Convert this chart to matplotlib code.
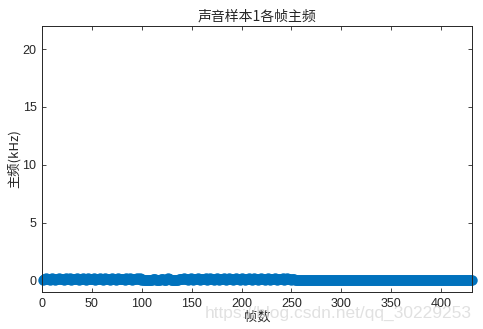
import matplotlib
matplotlib.use("Agg")
import matplotlib.pyplot as plt
import numpy as np

plt.rcParams['font.family'] = ['Liberation Sans', 'Noto Sans CJK SC', 'DejaVu Sans']

title = "声音样本1各帧主频"
xlabel = "帧数"
ylabel = "主频(kHz)"
xticks = [0, 50, 100, 150, 200, 250, 300, 350, 400]
yticks = [0, 5, 10, 15, 20]

# main frequency per frame (kHz), frames 1..260 (voiced part)
freq_part1 = [
    0.00, 0.15, 0.12, 0.17, 0.10, 0.14, 0.16, 0.05, 0.13, 0.18, 0.11, 0.15, 0.02, 0.14, 0.16, 0.12, 0.17, 0.09, 0.13, 0.15,
    0.16, 0.04, 0.12, 0.18, 0.14, 0.11, 0.15, 0.17, 0.03, 0.13, 0.16, 0.12, 0.15, 0.10, 0.17, 0.14, 0.05, 0.13, 0.16, 0.12,
    0.18, 0.11, 0.15, 0.02, 0.14, 0.17, 0.13, 0.16, 0.09, 0.12, 0.15, 0.17, 0.04, 0.14, 0.11, 0.16, 0.13, 0.18, 0.10, 0.15,
    0.03, 0.12, 0.17, 0.14, 0.16, 0.11, 0.13, 0.05, 0.15, 0.18, 0.12, 0.14, 0.16, 0.02, 0.13, 0.17, 0.11, 0.15, 0.14, 0.10,
    0.16, 0.12, 0.04, 0.17, 0.13, 0.15, 0.11, 0.18, 0.14, 0.03, 0.12, 0.16, 0.15, 0.13, 0.17, 0.10, 0.14, 0.18, 0.05, 0.12,
    0.02, 0.03, 0.01, 0.04, 0.02, 0.00, 0.03, 0.01, 0.02, 0.04, 0.12, 0.15, 0.13, 0.03, 0.02, 0.01, 0.04, 0.02, 0.14, 0.16,
    0.13, 0.03, 0.01, 0.02, 0.15, 0.17, 0.12, 0.14, 0.02, 0.03, 0.01, 0.02, 0.04, 0.03, 0.01, 0.02, 0.13, 0.16, 0.14, 0.12,
    0.15, 0.17, 0.11, 0.13, 0.16, 0.05, 0.14, 0.12, 0.18, 0.15, 0.03, 0.13, 0.16, 0.11, 0.14, 0.17, 0.12, 0.04, 0.15, 0.13,
    0.16, 0.10, 0.14, 0.18, 0.02, 0.12, 0.15, 0.17, 0.13, 0.11, 0.16, 0.05, 0.14, 0.12, 0.17, 0.15, 0.03, 0.13, 0.16, 0.11,
    0.14, 0.18, 0.12, 0.04, 0.15, 0.13, 0.17, 0.10, 0.16, 0.14, 0.02, 0.12, 0.15, 0.18, 0.13, 0.11, 0.16, 0.05, 0.14, 0.17,
    0.12, 0.15, 0.03, 0.13, 0.16, 0.11, 0.18, 0.14, 0.12, 0.04, 0.15, 0.17, 0.13, 0.10, 0.16, 0.14, 0.02, 0.12, 0.15, 0.17,
    0.13, 0.11, 0.16, 0.05, 0.14, 0.12, 0.18, 0.15, 0.03, 0.13, 0.16, 0.11, 0.14, 0.17, 0.12, 0.04, 0.15, 0.13, 0.16, 0.10,
    0.14, 0.18, 0.02, 0.12, 0.15, 0.17, 0.13, 0.11, 0.16, 0.05, 0.14, 0.12, 0.10, 0.08, 0.06, 0.04, 0.03, 0.02, 0.01, 0.00,
]
# frames 261..431 (silent part)
freq_part2 = [
    0.00, 0.00, 0.00, 0.00, 0.00, 0.00, 0.00, 0.00, 0.00, 0.00, 0.00, 0.00, 0.00, 0.00, 0.00, 0.00, 0.00, 0.00, 0.00, 0.00,
    0.00, 0.00, 0.00, 0.00, 0.00, 0.00, 0.00, 0.00, 0.00, 0.00, 0.00, 0.00, 0.00, 0.00, 0.00, 0.00, 0.00, 0.00, 0.00, 0.00,
    0.00, 0.00, 0.00, 0.00, 0.00, 0.00, 0.00, 0.00, 0.00, 0.00, 0.00, 0.00, 0.00, 0.00, 0.00, 0.00, 0.00, 0.00, 0.00, 0.00,
    0.00, 0.00, 0.00, 0.00, 0.00, 0.00, 0.00, 0.00, 0.00, 0.00, 0.00, 0.00, 0.00, 0.00, 0.00, 0.00, 0.00, 0.00, 0.00, 0.00,
    0.00, 0.00, 0.00, 0.00, 0.00, 0.00, 0.00, 0.00, 0.00, 0.00, 0.00, 0.00, 0.00, 0.00, 0.00, 0.00, 0.00, 0.00, 0.00, 0.00,
    0.00, 0.00, 0.00, 0.00, 0.00, 0.00, 0.00, 0.00, 0.00, 0.00, 0.00, 0.00, 0.00, 0.00, 0.00, 0.00, 0.00, 0.00, 0.00, 0.00,
    0.00, 0.00, 0.00, 0.00, 0.00, 0.00, 0.00, 0.00, 0.00, 0.00, 0.00, 0.00, 0.00, 0.00, 0.00, 0.00, 0.00, 0.00, 0.00, 0.00,
    0.00, 0.00, 0.00, 0.00, 0.00, 0.00, 0.00, 0.00, 0.00, 0.00, 0.00, 0.00, 0.00, 0.00, 0.00, 0.00, 0.00, 0.00, 0.00, 0.00,
    0.00, 0.00, 0.00, 0.00, 0.00, 0.00, 0.00, 0.00, 0.00, 0.00, 0.00,
]
freq = freq_part1 + freq_part2
frames = list(range(1, len(freq) + 1))

fig = plt.figure(figsize=(4.83, 3.29), dpi=100)
ax = fig.add_axes([42/483, 1 - 292/329, (472-42)/483, (292-26)/329])

ax.plot(frames, freq, 'o', markersize=6, markerfacecolor='none',
        markeredgecolor='#0072BD', markeredgewidth=1.5, clip_on=False)

ax.set_xlim(0, 431)
ax.set_ylim(-1, 22)
ax.set_xticks(xticks)
ax.set_yticks(yticks)
ax.tick_params(direction='in', length=3, width=0.6, labelsize=9, colors='#262626',
               top=True, right=True, pad=4)
for s in ax.spines.values():
    s.set_linewidth(0.7)
    s.set_color('#262626')

ax.set_title(title, fontsize=10, family=['Noto Sans CJK SC'], color='#262626', pad=4)
ax.set_xlabel(xlabel, fontsize=9.5, family=['Noto Sans CJK SC'], color='#262626', labelpad=1)
ax.set_ylabel(ylabel, fontsize=9.5, family=['Noto Sans CJK SC', 'Liberation Sans'], color='#262626', labelpad=1)

fig.text(472/483, 1 - 318/329, "https://blog.csdn.net/qq_30229253", fontsize=12.5,
         color='#dcdcdc', ha='right', va='baseline', alpha=0.85)

fig.savefig("out.png", dpi=100)
